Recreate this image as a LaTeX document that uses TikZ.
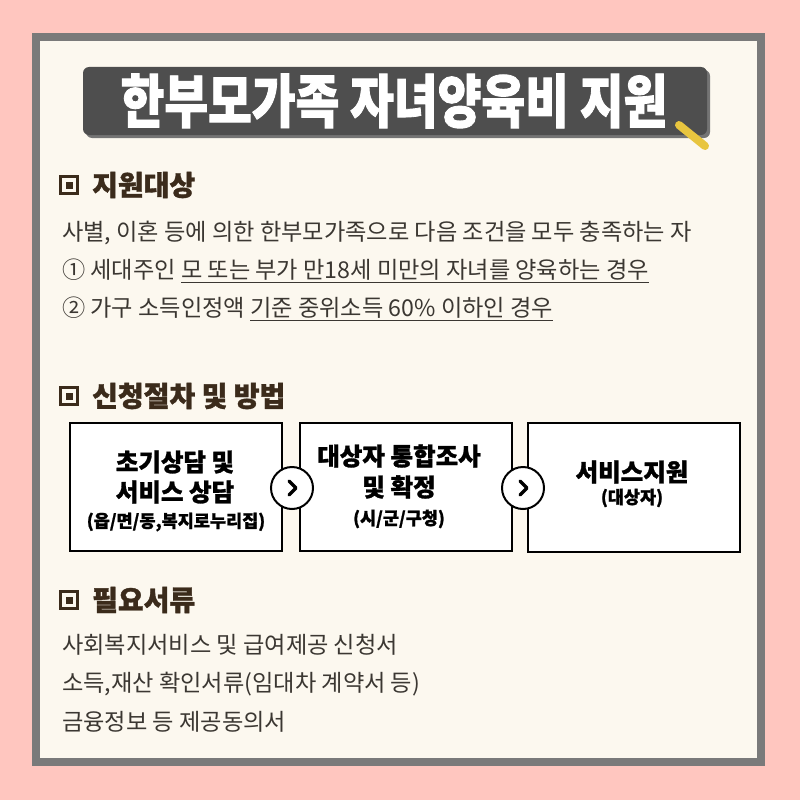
\documentclass[tikz,border=0pt]{standalone}
\usepackage{fontspec}
\newfontfamily\kr{Noto Sans CJK KR}
\newfontfamily\krheavy[FakeBold=1.2]{Noto Sans CJK KR}
\newfontfamily\krtitle[FakeStretch=0.82,FakeBold=1.5]{Noto Sans CJK KR}
\definecolor{pinkbg}{HTML}{FFC6BF}
\definecolor{framegray}{HTML}{7A7A7A}
\definecolor{cream}{HTML}{FCF8EF}
\definecolor{banner}{HTML}{4E4E4E}
\definecolor{bannershadow}{HTML}{747474}
\definecolor{stick}{HTML}{E8C53F}
\definecolor{headbrown}{HTML}{3B2B1B}
\definecolor{bodytext}{HTML}{3B3732}
\newcommand\myul[1]{\setbox0\hbox{#1}\rlap{\rule[-4pt]{\wd0}{1.2pt}}\box0}
\tikzset{
  headtxt/.style={anchor=west,inner sep=0pt,text=headbrown,font=\krheavy\bfseries\fontsize{28}{32}\selectfont},
  bodytxt/.style={anchor=west,inner sep=0pt,text=bodytext,font=\kr\fontsize{23.2}{27}\selectfont},
  stepbox/.style={draw=black,line width=2.2pt,fill=white,rectangle,inner sep=0pt},
  bigtxt/.style={inner sep=0pt,text=black,font=\krheavy\bfseries\fontsize{24.5}{28}\selectfont},
  smalltxt/.style={inner sep=0pt,text=black,font=\krheavy\bfseries\fontsize{17.5}{20}\selectfont},
  nextcirc/.style={circle,draw=black,line width=2pt,fill=white,minimum size=42pt,inner sep=0pt},
  chev/.style={draw=black,line width=3.4pt,line cap=round,line join=round},
}
\newcommand\sectionicon[1]{%
  \draw[headbrown,line width=3pt] (60.5,#1-8.5) rectangle (77.5,#1+8.5);
  \fill[headbrown] (65.5,#1-3.5) rectangle (72.5,#1+3.5);
}
\begin{document}
\begin{tikzpicture}[x=1pt,y=-1pt]
\useasboundingbox (0,0) rectangle (800,800);
\fill[pinkbg] (0,0) rectangle (800,800);
\fill[framegray] (32,33) rectangle (765,766);
\fill[cream] (40,41) rectangle (757,758);
% title banner
\fill[bannershadow,rounded corners=6pt] (86,70) rectangle (710,138);
\fill[banner,rounded corners=6pt] (83,67) rectangle (707,135);
\node[inner sep=0pt,text=white,font=\krtitle\bfseries\fontsize{58}{62}\selectfont] (title) at (394,101) {한부모가족 자녀양육비 지원};
\draw[stick,line width=8pt,line cap=round] (679,125) -- (705,146);
% section 1
\sectionicon{185}
\node[headtxt] (h1) at (92,185) {지원대상};
\node[bodytxt] (l1) at (62,233) {사별, 이혼 등에 의한 한부모가족으로 다음 조건을 모두 충족하는 자};
\node[bodytxt] (l2) at (62,271) {① 세대주인 \myul{모 또는 부가 만18세 미만의 자녀를 양육하는 경우}};
\node[bodytxt] (l3) at (62,309) {② 가구 소득인정액 \myul{기준 중위소득 60\% 이하인 경우}};
% section 2
\sectionicon{396}
\node[headtxt] (h2) at (92,396) {신청절차 및 방법};
\node[stepbox,minimum width=212pt,minimum height=128pt] (b1) at (176,487) {};
\node[stepbox,minimum width=212pt,minimum height=128pt] (b2) at (406,487) {};
\node[stepbox,minimum width=212pt,minimum height=129pt] (b3) at (634,487.5) {};
\node[bigtxt] (b1a) at (175,462) {초기상담 및};
\node[bigtxt] (b1b) at (175,492) {서비스 상담};
\node[smalltxt] (b1c) at (176,522) {(읍/면/동,복지로누리집)};
\node[bigtxt] (b2a) at (399,456) {대상자 통합조사};
\node[bigtxt] (b2b) at (399,487) {및 확정};
\node[smalltxt] (b2c) at (399,519) {(시/군/구청)};
\node[bigtxt] (b3a) at (632,472) {서비스지원};
\node[smalltxt] (b3b) at (632,498) {(대상자)};
\node[nextcirc] (c1) at (292,488) {};
\node[nextcirc] (c2) at (523,488) {};
\draw[chev] ([xshift=-3pt,yshift=7pt]c1.center) -- ([xshift=4pt]c1.center) -- ([xshift=-3pt,yshift=-7pt]c1.center);
\draw[chev] ([xshift=-3pt,yshift=7pt]c2.center) -- ([xshift=4pt]c2.center) -- ([xshift=-3pt,yshift=-7pt]c2.center);
% section 3
\sectionicon{600}
\node[headtxt] (h3) at (92,600) {필요서류};
\node[bodytxt] (m1) at (62,645) {사회복지서비스 및 급여제공 신청서};
\node[bodytxt] (m2) at (62,684) {소득,재산 확인서류(임대차 계약서 등)};
\node[bodytxt] (m3) at (62,722) {금융정보 등 제공동의서};
\end{tikzpicture}
\end{document}
